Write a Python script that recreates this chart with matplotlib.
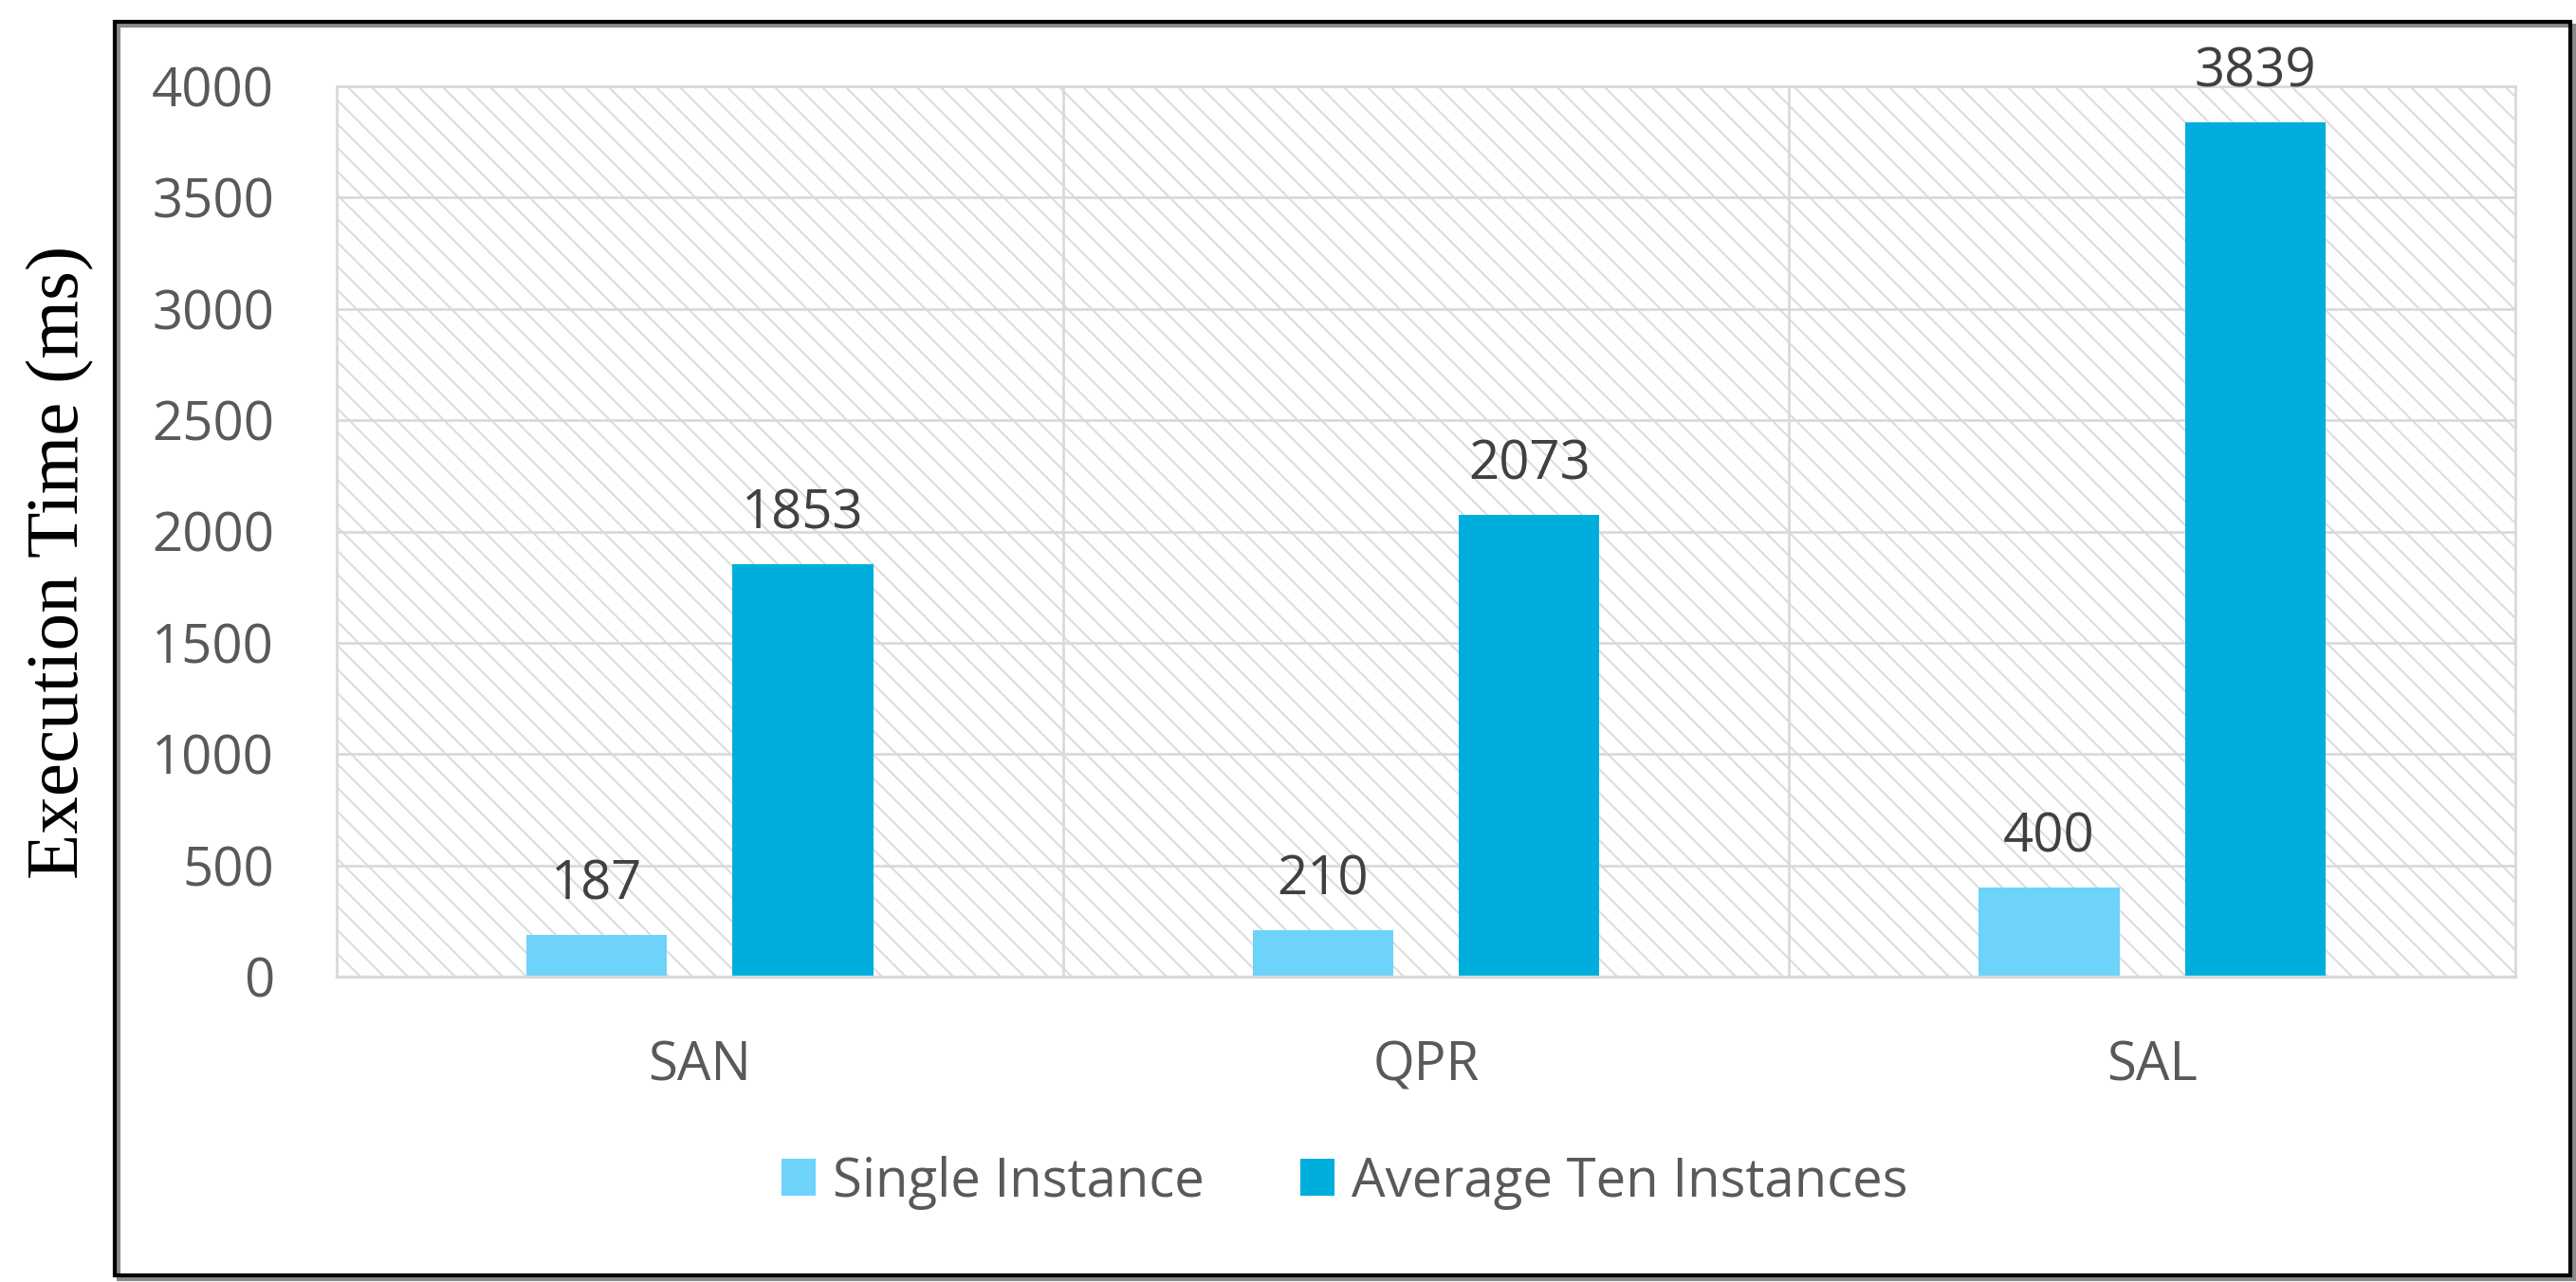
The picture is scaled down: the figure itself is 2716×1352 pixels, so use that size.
import matplotlib
matplotlib.use('Agg')
import matplotlib.pyplot as plt
from matplotlib.patches import Rectangle
import numpy as np

categories = ['SAN', 'QPR', 'SAL']
single_instance = [187, 210, 400]
average_ten = [1853, 2073, 3839]
series_names = ['Single Instance', 'Average Ten Instances']
y_ticks = [0, 500, 1000, 1500, 2000, 2500, 3000, 3500, 4000]

W, H, DPI = 2716, 1352, 150
plt.rcParams['hatch.linewidth'] = 1.0
plt.rcParams['font.family'] = ['Open Sans', 'DejaVu Sans']

fig = plt.figure(figsize=(W / DPI, H / DPI), dpi=DPI)
fig.patch.set_facecolor('white')


def fx(px):
    return px / W


def fy(py):
    return 1 - py / H


ax = fig.add_axes([fx(355), fy(1030), fx(2652) - fx(355), fy(91) - fy(1030)])
ax.patch.set_facecolor('white')
ax.add_patch(Rectangle((0, 0), 1, 1, transform=ax.transAxes, facecolor='white',
                       edgecolor='#dcdcdc', linewidth=0, hatch='\\\\', zorder=0.1))

x = np.arange(len(categories))
off, bw = 0.142, 0.194
b1 = ax.bar(x - off, single_instance, bw, color='#6DD3FA', label=series_names[0], zorder=2)
b2 = ax.bar(x + off, average_ten, bw, color='#00AEDE', label=series_names[1], zorder=2)

for xs, vals in ((x - off, single_instance), (x + off, average_ten)):
    for xc, v in zip(xs, vals):
        ax.annotate(f'{v}', (xc, v), xytext=(0, 18), textcoords='offset points',
                    ha='center', va='baseline', fontsize=27, color='#404040')

ax.set_xlim(-0.5, len(categories) - 0.5)
ax.set_ylim(0, 4000)
ax.set_yticks(y_ticks)
ax.set_xticks(x)
ax.set_xticklabels(categories)
ax.set_xticks([0.5, 1.5], minor=True)
ax.set_axisbelow(True)
ax.yaxis.grid(True, color='#d9d9d9', lw=1.3, zorder=0.5)
ax.xaxis.grid(True, which='minor', color='#d9d9d9', lw=1.3, zorder=0.5)
ax.tick_params(which='both', length=0)
ax.tick_params(axis='both', which='major', pad=31.7, labelsize=27, labelcolor='#595959')
for s in ax.spines.values():
    s.set_color('#d9d9d9')
    s.set_linewidth(1.3)
ax.spines['bottom'].set_linewidth(1.6)

fig.text(fx(64), fy(593), 'Execution Time (ms)', rotation=90, ha='center', va='center',
         fontsize=38, family=['Liberation Serif', 'DejaVu Serif'], color='black')

fig.legend([b1, b2], series_names, loc='center', bbox_to_anchor=(fx(1418), fy(1247)),
           ncol=2, frameon=False, fontsize=27, handlelength=0.64, handleheight=0.68,
           handletextpad=0.32, columnspacing=1.8, labelcolor='#595959')

fig.add_artist(Rectangle((fx(125), fy(1349)), fx(2714) - fx(125), fy(27) - fy(1349),
                         transform=fig.transFigure, fill=False, edgecolor='#8a8a8a', lw=2))
fig.add_artist(Rectangle((fx(121), fy(1345)), fx(2710) - fx(121), fy(23) - fy(1345),
                         transform=fig.transFigure, fill=False, edgecolor='black', lw=2))

fig.savefig('out.png', dpi=DPI, facecolor='white')
